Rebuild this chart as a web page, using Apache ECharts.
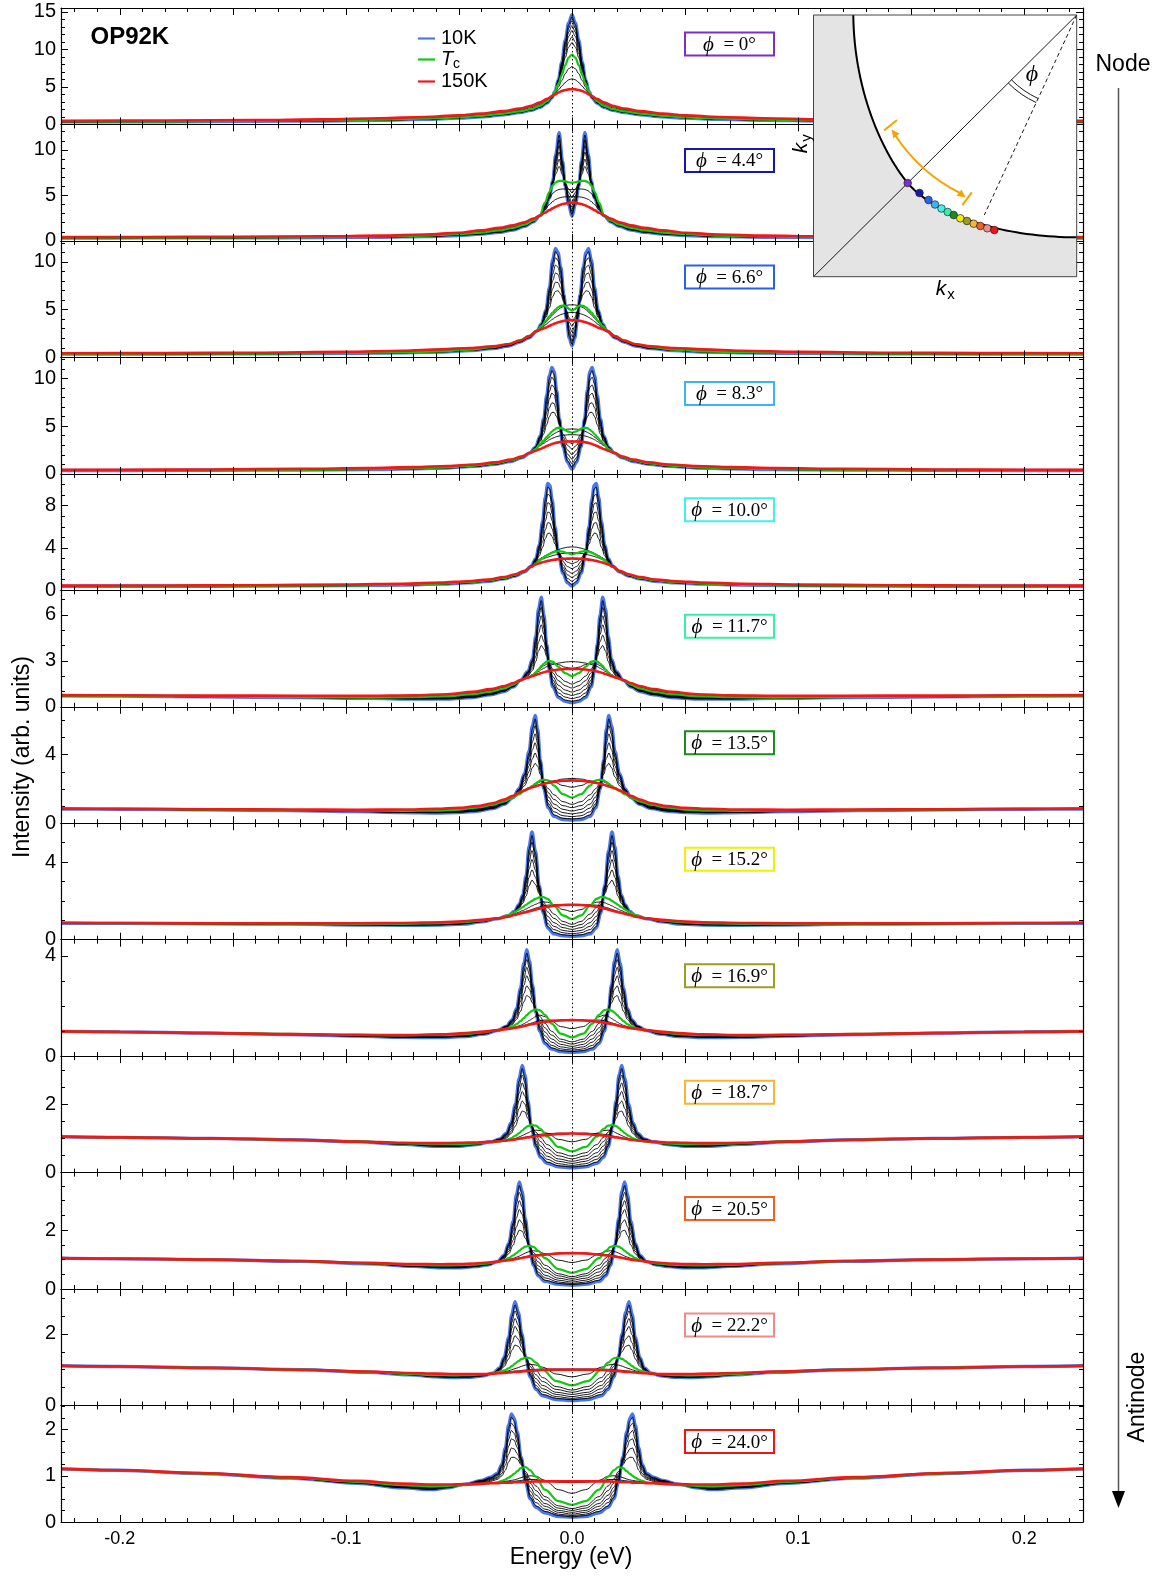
<!DOCTYPE html>
<html><head><meta charset="utf-8">
<script src="https://cdn.jsdelivr.net/npm/echarts@6.0.0/dist/echarts.min.js"></script>
<style>html,body{margin:0;padding:0;background:#fff}#c{width:1170px;height:1579px}</style>
</head><body><div id="c"></div>
<script>
// ---------------- DATA (half spectra, E >= 0; symmetrized EDCs) ----------------
const energy_p1 = [0,.0015,.003,.0045,.006,.0075,.009,.011,.014,.018,.023,.03,.04,.05,.065,.085,.11,.14,.18,.226];
const int10K_p1 = [14.6,13.5,11.2,8.3,6.0,4.4,3.5,2.85,2.3,1.9,1.6,1.3,1.02,0.85,0.68,0.56,0.47,0.41,0.37,0.35];
const intTc_p1 = [9.3,8.9,7.9,6.6,5.4,4.4,3.7,3.1,2.5,2.05,1.75,1.45,1.15,0.95,0.77,0.64,0.54,0.47,0.42,0.4];
const int150K_p1 = [4.7,4.67,4.58,4.45,4.25,4.0,3.75,3.4,2.95,2.5,2.12,1.78,1.45,1.22,0.99,0.82,0.68,0.59,0.52,0.48];
const intMid_p1 = [
[14.34,13.27,11.04,8.22,5.97,4.4,3.51,2.86,2.31,1.91,1.61,1.31,1.03,0.86,0.68,0.56,0.47,0.41,0.37,0.35],
[13.8,12.8,10.7,8.05,5.9,4.4,3.53,2.89,2.33,1.92,1.62,1.32,1.04,0.87,0.7,0.57,0.48,0.42,0.38,0.36],
[13.17,12.26,10.31,7.84,5.84,4.4,3.55,2.92,2.35,1.94,1.64,1.34,1.06,0.88,0.7,0.58,0.49,0.43,0.38,0.36],
[12.5,11.7,9.9,7.6,5.76,4.4,3.58,2.95,2.38,1.96,1.66,1.36,1.07,0.89,0.72,0.59,0.5,0.43,0.39,0.37],
[11.69,10.97,9.39,7.37,5.67,4.4,3.61,2.99,2.41,1.98,1.68,1.38,1.09,0.91,0.73,0.6,0.51,0.44,0.4,0.38],
[10.9,10.3,8.9,7.1,5.58,4.4,3.64,3.03,2.44,2.0,1.7,1.4,1.11,0.92,0.74,0.62,0.52,0.45,0.41,0.39],
[7.7,7.42,6.74,5.85,5.0,4.26,3.72,3.2,2.66,2.21,1.88,1.57,1.26,1.04,0.85,0.7,0.59,0.51,0.46,0.43],
[6.08,5.94,5.58,5.1,4.6,4.12,3.74,3.31,2.82,2.37,2.01,1.68,1.36,1.14,0.92,0.77,0.64,0.55,0.49,0.46]];

const energy_p2 = [0,.0015,.003,.0042,.0057,.0072,.0085,.01,.012,.0142,.017,.021,.026,.032,.04,.05,.065,.085,.11,.15,.19,.226];
const int10K_p2 = [2.7,4.0,6.0,8.8,11.9,9.5,6.6,4.7,3.5,2.75,2.1,1.6,1.2,0.95,0.75,0.6,0.48,0.41,0.37,0.34,0.33,0.32];
const intTc_p2 = [6.4,6.45,6.55,6.6,6.6,6.45,6.1,5.4,4.2,2.8,2.25,1.8,1.42,1.15,0.92,0.74,0.58,0.48,0.42,0.38,0.36,0.35];
const int150K_p2 = [4.2,4.18,4.12,4.05,3.92,3.75,3.58,3.38,3.1,2.8,2.45,2.05,1.72,1.45,1.18,0.9,0.7,0.58,0.51,0.46,0.43,0.42];
const intMid_p2 = [
[2.89,4.12,6.03,8.69,11.64,9.35,6.58,4.74,3.54,2.75,2.11,1.61,1.21,0.96,0.76,0.61,0.49,0.41,0.37,0.34,0.33,0.32],
[3.26,4.37,6.08,8.47,11.1,9.04,6.53,4.81,3.61,2.76,2.12,1.63,1.23,0.98,0.78,0.62,0.5,0.42,0.38,0.35,0.34,0.33],
[3.7,4.66,6.15,8.21,10.47,8.68,6.47,4.89,3.69,2.76,2.14,1.65,1.26,1.0,0.8,0.64,0.51,0.43,0.38,0.35,0.34,0.33],
[4.18,4.98,6.22,7.92,9.78,8.28,6.4,4.98,3.78,2.77,2.16,1.68,1.29,1.03,0.82,0.66,0.52,0.44,0.39,0.36,0.34,0.33],
[4.74,5.35,6.3,7.59,8.99,7.82,6.33,5.09,3.89,2.78,2.18,1.71,1.32,1.06,0.84,0.68,0.54,0.45,0.4,0.36,0.35,0.34],
[5.29,5.72,6.39,7.26,8.19,7.37,6.25,5.19,3.99,2.79,2.2,1.74,1.35,1.09,0.87,0.7,0.55,0.46,0.41,0.37,0.35,0.34],
[5.63,5.66,5.7,5.71,5.66,5.5,5.22,4.69,3.81,2.8,2.32,1.89,1.52,1.25,1.01,0.8,0.62,0.52,0.45,0.41,0.385,0.375],
[4.86,4.86,4.85,4.81,4.72,4.56,4.34,3.99,3.43,2.8,2.39,1.98,1.63,1.36,1.1,0.85,0.66,0.55,0.48,0.44,0.41,0.4]];

const energy_p3 = [0,.0012,.0024,.0036,.005,.0062,.0073,.0086,.01,.0115,.0135,.0156,.019,.023,.028,.035,.045,.058,.075,.1,.14,.18,.226];
const int10K_p3 = [1.2,2.0,3.9,6.6,9.5,11.0,11.4,10.2,7.3,5.0,3.5,2.75,2.05,1.6,1.2,0.92,0.72,0.57,0.48,0.42,0.38,0.36,0.35];
const intTc_p3 = [4.9,5.05,5.3,5.45,5.4,5.25,5.0,4.7,4.3,3.85,3.3,2.8,2.25,1.8,1.4,1.08,0.82,0.64,0.52,0.45,0.4,0.38,0.37];
const int150K_p3 = [3.9,3.89,3.86,3.82,3.75,3.67,3.58,3.45,3.3,3.12,2.95,2.75,2.2,1.75,1.38,1.15,0.98,0.85,0.7,0.58,0.49,0.45,0.43];
const intMid_p3 = [
[1.39,2.15,3.97,6.54,9.3,10.71,11.08,9.93,7.15,4.94,3.49,2.75,2.06,1.61,1.21,0.93,0.73,0.57,0.48,0.42,0.38,0.36,0.35],
[1.76,2.46,4.11,6.43,8.89,10.14,10.44,9.38,6.85,4.83,3.47,2.76,2.08,1.63,1.23,0.94,0.74,0.58,0.49,0.42,0.38,0.36,0.35],
[2.2,2.82,4.28,6.29,8.39,9.45,9.67,8.72,6.49,4.69,3.45,2.76,2.1,1.65,1.25,0.96,0.75,0.59,0.49,0.43,0.39,0.37,0.36],
[2.68,3.22,4.46,6.14,7.86,8.7,8.84,8.0,6.1,4.54,3.42,2.77,2.13,1.68,1.28,0.98,0.76,0.6,0.5,0.43,0.39,0.37,0.36],
[3.24,3.68,4.67,5.97,7.25,7.84,7.88,7.18,5.65,4.37,3.39,2.78,2.16,1.71,1.31,1.01,0.78,0.61,0.5,0.44,0.39,0.37,0.36],
[3.79,4.14,4.88,5.8,6.63,6.98,6.92,6.35,5.2,4.2,3.36,2.79,2.19,1.74,1.34,1.03,0.79,0.62,0.51,0.44,0.39,0.37,0.36],
[5.5,5.5,5.45,5.35,5.2,5.0,4.75,4.45,4.1,3.7,3.2,2.78,2.22,1.78,1.39,1.1,0.88,0.7,0.57,0.49,0.43,0.4,0.39],
[4.7,4.69,4.65,4.58,4.48,4.35,4.2,4.0,3.75,3.45,3.1,2.77,2.21,1.77,1.39,1.13,0.94,0.79,0.64,0.54,0.46,0.43,0.41]];

const energy_p4 = [0,.002,.004,.0056,.0068,.0079,.0089,.01,.0112,.0125,.014,.0162,.0186,.022,.027,.034,.043,.055,.07,.09,.12,.16,.2,.226];
const int10K_p4 = [0.5,1.2,2.8,5.8,8.8,10.7,11.15,10.3,8.2,5.8,4.0,2.8,2.2,1.7,1.3,1.0,0.78,0.62,0.52,0.45,0.4,0.37,0.35,0.35];
const intTc_p4 = [4.3,4.45,4.75,4.85,4.78,4.62,4.42,4.15,3.85,3.5,3.15,2.6,2.2,1.78,1.4,1.1,0.86,0.68,0.56,0.48,0.42,0.39,0.37,0.37];
const int150K_p4 = [3.4,3.39,3.36,3.32,3.27,3.2,3.12,3.02,2.9,2.76,2.6,2.4,2.2,1.85,1.5,1.2,0.98,0.82,0.7,0.6,0.52,0.46,0.43,0.42];
const intMid_p4 = [
[0.69,1.36,2.9,5.75,8.6,10.4,10.81,9.99,7.98,5.69,3.96,2.79,2.2,1.7,1.31,1.01,0.78,0.62,0.52,0.45,0.4,0.37,0.35,0.35],
[1.07,1.69,3.09,5.66,8.2,9.79,10.14,9.38,7.55,5.46,3.87,2.77,2.2,1.71,1.32,1.02,0.79,0.63,0.53,0.45,0.4,0.37,0.35,0.35],
[1.53,2.08,3.33,5.54,7.71,9.06,9.33,8.64,7.03,5.18,3.77,2.75,2.2,1.72,1.33,1.03,0.8,0.64,0.53,0.46,0.41,0.38,0.36,0.36],
[2.02,2.5,3.58,5.42,7.19,8.27,8.46,7.84,6.46,4.88,3.66,2.72,2.2,1.73,1.34,1.04,0.81,0.64,0.54,0.46,0.41,0.38,0.36,0.36],
[2.59,2.99,3.87,5.28,6.59,7.36,7.45,6.92,5.81,4.54,3.53,2.69,2.2,1.74,1.36,1.06,0.82,0.65,0.54,0.47,0.41,0.38,0.36,0.36],
[3.16,3.48,4.17,5.14,5.99,6.44,6.44,5.99,5.16,4.19,3.41,2.66,2.2,1.76,1.37,1.07,0.84,0.66,0.55,0.47,0.41,0.38,0.36,0.36],
[4.7,4.68,4.6,4.48,4.35,4.2,4.05,3.85,3.62,3.35,3.05,2.58,2.2,1.8,1.43,1.14,0.9,0.72,0.6,0.51,0.45,0.41,0.39,0.38],
[4.1,4.09,4.04,3.97,3.9,3.8,3.7,3.57,3.4,3.2,2.98,2.55,2.2,1.83,1.47,1.17,0.94,0.77,0.65,0.55,0.48,0.43,0.4,0.4]];

const energy_p5 = [0,.002,.004,.006,.0075,.0088,.0098,.0107,.0118,.013,.0145,.016,.018,.021,.025,.03,.037,.046,.058,.075,.1,.14,.18,.226];
const int10K_p5 = [0.4,0.7,1.6,3.4,6.0,8.6,9.9,10.1,8.8,6.5,4.3,3.0,2.3,1.75,1.35,1.08,0.86,0.7,0.58,0.5,0.44,0.4,0.38,0.38];
const intTc_p5 = [3.4,3.5,3.65,3.7,3.65,3.55,3.45,3.35,3.2,3.02,2.8,2.55,2.2,1.8,1.45,1.17,0.93,0.76,0.62,0.52,0.46,0.42,0.4,0.39];
const int150K_p5 = [3.0,2.99,2.97,2.94,2.9,2.86,2.82,2.78,2.72,2.65,2.56,2.45,2.22,1.85,1.52,1.25,1.02,0.86,0.73,0.62,0.54,0.48,0.45,0.44];
const intMid_p5 = [
[0.55,0.84,1.7,3.42,5.88,8.35,9.58,9.76,8.52,6.33,4.23,2.98,2.3,1.75,1.36,1.08,0.86,0.7,0.58,0.5,0.44,0.4,0.38,0.38],
[0.85,1.12,1.91,3.45,5.65,7.84,8.93,9.09,7.96,5.98,4.08,2.93,2.29,1.76,1.37,1.09,0.87,0.71,0.59,0.5,0.44,0.4,0.38,0.38],
[1.21,1.46,2.15,3.48,5.37,7.24,8.16,8.28,7.29,5.56,3.9,2.88,2.27,1.76,1.38,1.1,0.88,0.72,0.59,0.51,0.45,0.41,0.39,0.38],
[1.6,1.82,2.42,3.52,5.06,6.58,7.32,7.4,6.56,5.11,3.7,2.82,2.26,1.77,1.39,1.12,0.89,0.72,0.6,0.51,0.45,0.41,0.39,0.38],
[2.05,2.24,2.73,3.57,4.71,5.82,6.35,6.39,5.72,4.59,3.48,2.75,2.25,1.78,1.41,1.13,0.9,0.73,0.6,0.51,0.45,0.41,0.39,0.39],
[2.5,2.66,3.04,3.61,4.36,5.07,5.39,5.38,4.88,4.06,3.25,2.69,2.23,1.79,1.42,1.14,0.91,0.74,0.61,0.51,0.45,0.41,0.39,0.39],
[4.1,4.07,3.98,3.85,3.72,3.6,3.5,3.4,3.27,3.12,2.93,2.68,2.3,1.85,1.49,1.2,0.96,0.79,0.65,0.55,0.48,0.44,0.42,0.41],
[3.55,3.53,3.48,3.41,3.33,3.26,3.2,3.13,3.05,2.95,2.8,2.62,2.28,1.85,1.5,1.22,0.99,0.82,0.69,0.58,0.51,0.46,0.43,0.42]];

const energy_p6 = [0,.003,.006,.0085,.01,.0112,.0124,.0136,.0148,.016,.0175,.0195,.0228,.026,.03,.036,.044,.055,.07,.09,.12,.16,.2,.226];
const int10K_p6 = [0.27,0.35,0.6,1.3,2.4,4.1,6.0,7.15,6.4,4.6,3.1,2.3,1.72,1.3,1.0,0.78,0.6,0.5,0.5,0.55,0.6,0.65,0.7,0.72];
const intTc_p6 = [2.0,2.2,2.6,2.95,3.0,2.95,2.82,2.65,2.45,2.25,2.05,1.9,1.73,1.45,1.2,0.98,0.82,0.7,0.62,0.6,0.62,0.66,0.71,0.73];
const int150K_p6 = [2.47,2.46,2.43,2.38,2.34,2.3,2.25,2.2,2.14,2.08,2.0,1.9,1.75,1.55,1.35,1.15,0.97,0.82,0.75,0.72,0.72,0.73,0.75,0.76];
const intMid_p6 = [
[0.36,0.44,0.7,1.38,2.43,4.04,5.84,6.93,6.2,4.48,3.05,2.28,1.72,1.31,1.01,0.79,0.61,0.51,0.51,0.55,0.6,0.65,0.7,0.72],
[0.53,0.63,0.9,1.55,2.49,3.93,5.52,6.48,5.81,4.25,2.94,2.24,1.72,1.32,1.03,0.81,0.63,0.53,0.52,0.56,0.6,0.65,0.7,0.72],
[0.74,0.85,1.14,1.75,2.56,3.79,5.14,5.94,5.33,3.97,2.82,2.19,1.72,1.34,1.05,0.83,0.66,0.55,0.53,0.56,0.61,0.65,0.7,0.72],
[0.96,1.09,1.4,1.96,2.64,3.64,4.73,5.35,4.82,3.66,2.68,2.14,1.72,1.36,1.08,0.86,0.69,0.58,0.55,0.57,0.61,0.65,0.7,0.72],
[1.22,1.37,1.7,2.21,2.73,3.47,4.25,4.68,4.23,3.31,2.52,2.08,1.73,1.38,1.11,0.89,0.72,0.61,0.57,0.58,0.61,0.66,0.71,0.73],
[1.48,1.65,2.0,2.46,2.82,3.3,3.77,4.0,3.64,2.96,2.37,2.02,1.73,1.41,1.14,0.92,0.75,0.64,0.58,0.59,0.61,0.66,0.71,0.73],
[2.5,2.58,2.75,2.85,2.84,2.78,2.68,2.56,2.42,2.27,2.08,1.92,1.74,1.48,1.24,1.03,0.86,0.73,0.66,0.63,0.64,0.68,0.72,0.74],
[2.95,2.92,2.85,2.76,2.7,2.62,2.52,2.42,2.3,2.18,2.03,1.9,1.74,1.5,1.28,1.08,0.9,0.77,0.7,0.67,0.68,0.7,0.74,0.75]];

const energy_p7 = [0,.004,.008,.0105,.0125,.014,.0152,.0163,.0175,.019,.021,.0235,.026,.03,.035,.042,.05,.06,.075,.095,.125,.16,.2,.226];
const int10K_p7 = [0.18,0.22,0.4,0.9,2.0,3.7,5.5,6.3,5.7,4.2,2.9,2.0,1.5,1.1,0.85,0.7,0.62,0.6,0.63,0.68,0.74,0.78,0.82,0.83];
const intTc_p7 = [1.5,1.7,2.2,2.5,2.55,2.5,2.4,2.3,2.18,2.05,1.88,1.68,1.5,1.27,1.08,0.92,0.8,0.74,0.72,0.74,0.77,0.8,0.83,0.84];
const int150K_p7 = [2.5,2.48,2.42,2.36,2.3,2.25,2.2,2.15,2.1,2.03,1.93,1.78,1.6,1.38,1.17,1.0,0.9,0.84,0.8,0.79,0.8,0.82,0.84,0.85];
const intMid_p7 = [
[0.25,0.29,0.49,0.98,2.03,3.64,5.35,6.1,5.52,4.09,2.85,1.98,1.5,1.11,0.86,0.71,0.63,0.61,0.63,0.68,0.74,0.78,0.82,0.83],
[0.38,0.44,0.67,1.14,2.08,3.52,5.04,5.7,5.17,3.88,2.75,1.95,1.5,1.13,0.88,0.73,0.65,0.62,0.64,0.69,0.74,0.78,0.82,0.83],
[0.54,0.62,0.89,1.33,2.15,3.38,4.66,5.22,4.75,3.62,2.62,1.91,1.5,1.15,0.91,0.76,0.67,0.64,0.65,0.7,0.75,0.79,0.82,0.83],
[0.71,0.81,1.12,1.54,2.22,3.22,4.26,4.7,4.29,3.34,2.49,1.87,1.5,1.17,0.94,0.79,0.69,0.66,0.67,0.7,0.75,0.79,0.82,0.83],
[0.91,1.03,1.39,1.78,2.3,3.04,3.8,4.1,3.76,3.02,2.34,1.82,1.5,1.19,0.98,0.82,0.72,0.68,0.68,0.71,0.76,0.79,0.83,0.84],
[1.1,1.26,1.66,2.02,2.39,2.86,3.33,3.5,3.24,2.7,2.19,1.78,1.5,1.22,1.01,0.85,0.75,0.7,0.69,0.72,0.76,0.79,0.83,0.84],
[2.1,2.2,2.42,2.5,2.48,2.42,2.34,2.26,2.18,2.08,1.94,1.76,1.57,1.34,1.13,0.96,0.85,0.79,0.76,0.76,0.78,0.81,0.84,0.85],
[2.62,2.58,2.48,2.4,2.34,2.28,2.22,2.16,2.1,2.02,1.9,1.73,1.55,1.33,1.13,0.96,0.86,0.8,0.77,0.77,0.79,0.81,0.84,0.85]];

const energy_p8 = [0,.004,.008,.0108,.0128,.0145,.0162,.0177,.019,.0203,.0218,.0235,.0255,.028,.033,.04,.048,.058,.075,.095,.125,.16,.2,.226];
const int10K_p8 = [0.17,0.2,0.3,0.6,1.4,2.8,4.6,5.55,4.8,3.3,2.3,1.8,1.45,1.25,1.08,0.92,0.8,0.75,0.74,0.76,0.8,0.82,0.84,0.85];
const intTc_p8 = [1.06,1.25,1.75,2.1,2.2,2.18,2.1,2.0,1.9,1.8,1.68,1.55,1.42,1.27,1.1,0.98,0.9,0.85,0.82,0.82,0.83,0.84,0.85,0.86];
const int150K_p8 = [1.8,1.79,1.75,1.7,1.65,1.6,1.55,1.5,1.46,1.42,1.38,1.33,1.27,1.19,1.1,1.02,0.95,0.9,0.86,0.85,0.85,0.85,0.86,0.87];
const intMid_p8 = [
[0.21,0.25,0.37,0.68,1.44,2.77,4.48,5.37,4.66,3.23,2.27,1.79,1.45,1.25,1.08,0.92,0.81,0.76,0.74,0.76,0.8,0.82,0.84,0.85],
[0.3,0.36,0.52,0.83,1.52,2.71,4.23,5.02,4.37,3.08,2.21,1.76,1.45,1.25,1.08,0.93,0.82,0.77,0.75,0.77,0.8,0.82,0.84,0.85],
[0.41,0.48,0.69,1.01,1.62,2.63,3.93,4.59,4.02,2.9,2.13,1.73,1.44,1.26,1.09,0.94,0.83,0.78,0.76,0.78,0.81,0.83,0.84,0.85],
[0.53,0.62,0.88,1.2,1.72,2.55,3.6,4.13,3.64,2.7,2.05,1.7,1.44,1.26,1.09,0.94,0.84,0.79,0.77,0.78,0.81,0.83,0.84,0.85],
[0.66,0.78,1.1,1.43,1.84,2.46,3.23,3.6,3.21,2.48,1.96,1.66,1.43,1.26,1.09,0.95,0.86,0.81,0.78,0.79,0.82,0.83,0.85,0.86],
[0.79,0.94,1.32,1.65,1.96,2.37,2.85,3.07,2.77,2.25,1.87,1.63,1.43,1.26,1.09,0.96,0.87,0.82,0.8,0.8,0.82,0.83,0.85,0.86],
[1.45,1.55,1.8,1.93,1.95,1.9,1.82,1.74,1.66,1.58,1.5,1.42,1.33,1.22,1.1,1.0,0.92,0.87,0.83,0.83,0.84,0.84,0.85,0.86],
[1.78,1.79,1.8,1.78,1.74,1.68,1.62,1.56,1.51,1.46,1.41,1.35,1.28,1.2,1.1,1.01,0.93,0.88,0.84,0.84,0.84,0.85,0.86,0.86]];

const energy_p9 = [0,.005,.009,.012,.0143,.016,.0175,.0188,.02,.0213,.0228,.0245,.0265,.029,.033,.039,.047,.058,.075,.095,.125,.16,.2,.226];
const int10K_p9 = [0.15,0.18,0.28,0.5,1.0,1.75,2.85,3.8,4.25,3.7,2.7,1.9,1.45,1.2,1.02,0.88,0.78,0.74,0.75,0.8,0.86,0.92,0.97,0.99];
const intTc_p9 = [0.75,0.9,1.3,1.65,1.84,1.87,1.82,1.74,1.64,1.52,1.4,1.28,1.18,1.1,1.04,0.95,0.88,0.84,0.83,0.85,0.89,0.93,0.97,0.99];
const int150K_p9 = [1.44,1.43,1.4,1.37,1.34,1.31,1.28,1.26,1.23,1.2,1.17,1.14,1.11,1.08,1.04,0.98,0.92,0.87,0.84,0.85,0.88,0.92,0.97,0.99];
const intMid_p9 = [
[0.18,0.22,0.33,0.56,1.04,1.76,2.8,3.7,4.12,3.59,2.64,1.87,1.44,1.2,1.02,0.88,0.79,0.75,0.75,0.8,0.86,0.92,0.97,0.99],
[0.24,0.29,0.43,0.67,1.13,1.77,2.7,3.49,3.86,3.37,2.5,1.81,1.41,1.19,1.02,0.89,0.8,0.76,0.76,0.81,0.86,0.92,0.97,0.99],
[0.31,0.37,0.56,0.81,1.23,1.78,2.57,3.24,3.55,3.11,2.35,1.73,1.38,1.17,1.03,0.9,0.81,0.77,0.77,0.81,0.87,0.92,0.97,0.99],
[0.39,0.47,0.69,0.96,1.34,1.8,2.44,2.98,3.21,2.83,2.18,1.65,1.34,1.16,1.03,0.91,0.82,0.78,0.78,0.82,0.87,0.92,0.97,0.99],
[0.48,0.58,0.84,1.13,1.46,1.82,2.28,2.67,2.81,2.5,1.99,1.56,1.3,1.15,1.03,0.92,0.84,0.8,0.79,0.83,0.88,0.93,0.97,0.99],
[0.57,0.68,0.99,1.31,1.59,1.83,2.13,2.36,2.42,2.17,1.79,1.47,1.26,1.13,1.03,0.93,0.85,0.81,0.81,0.84,0.88,0.93,0.97,0.99],
[1.1,1.18,1.4,1.58,1.64,1.6,1.5,1.43,1.36,1.29,1.23,1.18,1.13,1.09,1.04,0.96,0.9,0.86,0.84,0.85,0.89,0.93,0.97,0.99],
[1.42,1.43,1.44,1.44,1.42,1.38,1.33,1.3,1.26,1.22,1.18,1.15,1.12,1.08,1.04,0.97,0.91,0.86,0.84,0.85,0.88,0.92,0.97,0.99]];

const energy_p10 = [0,.006,.011,.014,.016,.018,.0195,.0208,.022,.0234,.025,.027,.029,.032,.036,.042,.05,.06,.075,.095,.125,.16,.2,.226];
const int10K_p10 = [0.14,0.17,0.27,0.45,0.75,1.35,2.1,2.85,3.13,2.75,2.0,1.45,1.15,0.98,0.9,0.82,0.77,0.77,0.83,0.9,0.96,1.0,1.03,1.05];
const intTc_p10 = [0.62,0.75,1.05,1.28,1.37,1.39,1.36,1.3,1.23,1.15,1.08,1.0,0.95,0.91,0.88,0.85,0.83,0.83,0.86,0.91,0.96,1.0,1.03,1.05];
const int150K_p10 = [1.14,1.13,1.1,1.08,1.06,1.04,1.03,1.02,1.0,0.99,0.97,0.95,0.94,0.92,0.9,0.88,0.87,0.86,0.87,0.91,0.96,1.0,1.03,1.05];
const intMid_p10 = [
[0.16,0.2,0.31,0.49,0.78,1.35,2.06,2.77,3.04,2.67,1.95,1.43,1.14,0.98,0.9,0.82,0.77,0.77,0.83,0.9,0.96,1.0,1.03,1.05],
[0.21,0.26,0.39,0.57,0.84,1.36,1.99,2.62,2.85,2.51,1.86,1.38,1.12,0.97,0.9,0.82,0.78,0.78,0.83,0.9,0.96,1.0,1.03,1.05],
[0.27,0.33,0.48,0.67,0.92,1.36,1.9,2.43,2.62,2.32,1.75,1.33,1.1,0.96,0.89,0.83,0.79,0.79,0.84,0.9,0.96,1.0,1.03,1.05],
[0.33,0.4,0.58,0.78,1.0,1.37,1.8,2.23,2.37,2.11,1.63,1.27,1.07,0.95,0.89,0.83,0.79,0.79,0.84,0.9,0.96,1.0,1.03,1.05],
[0.4,0.49,0.7,0.91,1.09,1.37,1.69,2.0,2.09,1.87,1.49,1.2,1.04,0.94,0.89,0.84,0.8,0.8,0.85,0.91,0.96,1.0,1.03,1.05],
[0.48,0.58,0.82,1.03,1.18,1.38,1.58,1.77,1.8,1.63,1.36,1.14,1.01,0.93,0.89,0.84,0.81,0.81,0.85,0.91,0.96,1.0,1.03,1.05],
[0.9,0.97,1.15,1.23,1.24,1.21,1.16,1.12,1.08,1.04,1.0,0.96,0.93,0.91,0.89,0.87,0.85,0.85,0.87,0.91,0.96,1.0,1.03,1.05],
[1.15,1.15,1.14,1.12,1.1,1.07,1.05,1.03,1.01,0.99,0.97,0.95,0.93,0.91,0.9,0.88,0.86,0.85,0.87,0.91,0.96,1.0,1.03,1.05]];

const energy_p11 = [0,.006,.012,.015,.017,.019,.0207,.022,.0233,.0246,.026,.028,.03,.033,.037,.043,.05,.058,.07,.09,.12,.16,.2,.226];
const int10K_p11 = [0.13,0.16,0.26,0.45,0.8,1.5,2.4,3.3,3.63,3.2,2.3,1.55,1.15,0.93,0.82,0.76,0.72,0.72,0.77,0.86,0.94,1.0,1.03,1.05];
const intTc_p11 = [0.55,0.68,1.05,1.3,1.43,1.47,1.44,1.38,1.3,1.22,1.14,1.05,0.98,0.92,0.87,0.83,0.81,0.8,0.82,0.88,0.95,1.0,1.03,1.05];
const int150K_p11 = [1.22,1.21,1.17,1.14,1.12,1.1,1.08,1.06,1.04,1.02,1.0,0.98,0.96,0.93,0.9,0.87,0.85,0.84,0.85,0.89,0.95,1.0,1.03,1.05];
const intMid_p11 = [
[0.15,0.19,0.3,0.49,0.83,1.5,2.35,3.2,3.51,3.1,2.24,1.53,1.14,0.93,0.82,0.76,0.72,0.72,0.77,0.86,0.94,1.0,1.03,1.05],
[0.19,0.24,0.38,0.58,0.89,1.5,2.26,3.01,3.28,2.9,2.13,1.48,1.12,0.93,0.83,0.77,0.73,0.73,0.78,0.86,0.94,1.0,1.03,1.05],
[0.24,0.3,0.47,0.68,0.97,1.49,2.14,2.78,3.0,2.67,1.99,1.42,1.1,0.93,0.83,0.78,0.74,0.74,0.78,0.87,0.94,1.0,1.03,1.05],
[0.3,0.37,0.58,0.79,1.05,1.49,2.02,2.53,2.7,2.41,1.84,1.35,1.08,0.93,0.84,0.79,0.76,0.75,0.79,0.87,0.94,1.0,1.03,1.05],
[0.36,0.45,0.69,0.92,1.15,1.48,1.87,2.24,2.35,2.11,1.66,1.28,1.06,0.92,0.85,0.8,0.77,0.76,0.8,0.87,0.95,1.0,1.03,1.05],
[0.42,0.52,0.81,1.05,1.24,1.48,1.73,1.96,2.0,1.81,1.49,1.2,1.03,0.92,0.86,0.81,0.78,0.78,0.81,0.87,0.95,1.0,1.03,1.05],
[0.9,0.98,1.2,1.28,1.3,1.27,1.22,1.17,1.12,1.08,1.04,1.0,0.96,0.92,0.88,0.85,0.83,0.82,0.84,0.89,0.95,1.0,1.03,1.05],
[1.2,1.2,1.19,1.17,1.15,1.13,1.1,1.07,1.05,1.03,1.01,0.98,0.96,0.93,0.9,0.86,0.84,0.83,0.85,0.89,0.95,1.0,1.03,1.05]];

const energy_p12 = [0,.007,.013,.016,.0185,.0205,.0222,.0237,.0252,.0266,.028,.03,.032,.035,.039,.045,.052,.06,.072,.09,.12,.16,.2,.226];
const int10K_p12 = [0.14,0.17,0.27,0.45,0.8,1.35,2.0,2.6,2.9,2.55,1.9,1.35,1.05,0.9,0.83,0.79,0.78,0.8,0.86,0.93,1.0,1.05,1.09,1.11];
const intTc_p12 = [0.56,0.68,1.0,1.2,1.32,1.34,1.3,1.24,1.17,1.1,1.04,0.98,0.94,0.9,0.87,0.85,0.84,0.85,0.88,0.94,1.0,1.05,1.09,1.11];
const int150K_p12 = [1.0,1.0,0.99,0.98,0.97,0.96,0.95,0.94,0.94,0.93,0.92,0.91,0.9,0.89,0.88,0.88,0.88,0.89,0.91,0.95,1.0,1.05,1.09,1.11];
const intMid_p12 = [
[0.16,0.2,0.31,0.49,0.83,1.35,1.97,2.53,2.81,2.48,1.86,1.33,1.04,0.9,0.83,0.79,0.78,0.8,0.86,0.93,1.0,1.05,1.09,1.11],
[0.2,0.25,0.38,0.56,0.88,1.35,1.9,2.4,2.64,2.33,1.77,1.29,1.03,0.9,0.84,0.8,0.79,0.81,0.86,0.93,1.0,1.05,1.09,1.11],
[0.25,0.31,0.47,0.65,0.94,1.35,1.81,2.23,2.43,2.16,1.67,1.25,1.02,0.9,0.84,0.81,0.8,0.81,0.87,0.93,1.0,1.05,1.09,1.11],
[0.31,0.37,0.56,0.75,1.01,1.35,1.72,2.06,2.21,1.97,1.56,1.2,1.01,0.9,0.85,0.81,0.8,0.82,0.87,0.93,1.0,1.05,1.09,1.11],
[0.37,0.45,0.67,0.86,1.09,1.34,1.62,1.85,1.95,1.75,1.43,1.15,0.99,0.9,0.85,0.82,0.81,0.83,0.87,0.94,1.0,1.05,1.09,1.11],
[0.43,0.53,0.78,0.98,1.16,1.34,1.51,1.65,1.69,1.54,1.3,1.09,0.97,0.9,0.86,0.83,0.82,0.84,0.87,0.94,1.0,1.05,1.09,1.11],
[0.8,0.88,1.07,1.13,1.15,1.13,1.1,1.06,1.03,1.0,0.97,0.94,0.92,0.9,0.88,0.86,0.86,0.87,0.89,0.94,1.0,1.05,1.09,1.11],
[1.02,1.02,1.02,1.01,1.0,0.99,0.98,0.97,0.96,0.95,0.94,0.92,0.91,0.9,0.88,0.87,0.87,0.88,0.9,0.94,1.0,1.05,1.09,1.11]];

const energy_p13 = [0,.006,.012,.016,.0185,.0205,.0225,.0242,.0256,.0268,.028,.0295,.031,.033,.036,.04,.047,.055,.062,.075,.095,.125,.165,.2,.226];
const int10K_p13 = [0.1,0.12,0.2,0.32,0.5,0.85,1.4,1.95,2.25,2.34,2.1,1.6,1.25,1.05,0.97,0.9,0.82,0.74,0.7,0.74,0.84,0.95,1.05,1.12,1.15];
const intTc_p13 = [0.37,0.45,0.7,0.98,1.12,1.19,1.17,1.1,1.04,1.0,0.96,0.92,0.89,0.86,0.84,0.82,0.8,0.78,0.77,0.8,0.87,0.96,1.05,1.12,1.15];
const int150K_p13 = [0.88,0.88,0.88,0.88,0.87,0.87,0.86,0.86,0.86,0.85,0.85,0.85,0.85,0.84,0.84,0.83,0.82,0.81,0.81,0.83,0.89,0.97,1.06,1.12,1.15];
const intMid_p13 = [
[0.11,0.14,0.23,0.35,0.53,0.87,1.39,1.91,2.19,2.27,2.04,1.57,1.23,1.04,0.96,0.9,0.82,0.74,0.7,0.74,0.84,0.95,1.05,1.12,1.15],
[0.14,0.17,0.28,0.42,0.59,0.9,1.37,1.82,2.07,2.14,1.93,1.5,1.2,1.02,0.95,0.89,0.82,0.75,0.71,0.75,0.84,0.95,1.05,1.12,1.15],
[0.17,0.21,0.34,0.5,0.67,0.94,1.34,1.72,1.92,1.98,1.79,1.42,1.15,1.0,0.93,0.88,0.81,0.75,0.72,0.76,0.85,0.95,1.05,1.12,1.15],
[0.21,0.25,0.4,0.58,0.75,0.99,1.31,1.61,1.77,1.8,1.64,1.33,1.11,0.97,0.92,0.87,0.81,0.76,0.73,0.76,0.85,0.95,1.05,1.12,1.15],
[0.25,0.3,0.48,0.68,0.84,1.04,1.27,1.48,1.58,1.6,1.47,1.23,1.05,0.95,0.9,0.86,0.81,0.76,0.74,0.77,0.86,0.96,1.05,1.12,1.15],
[0.29,0.35,0.55,0.78,0.93,1.09,1.24,1.36,1.4,1.4,1.3,1.12,1.0,0.92,0.88,0.84,0.81,0.77,0.75,0.78,0.86,0.96,1.05,1.12,1.15],
[0.62,0.7,0.9,0.99,1.0,0.99,0.96,0.93,0.91,0.9,0.89,0.88,0.87,0.86,0.85,0.84,0.82,0.8,0.79,0.81,0.88,0.96,1.05,1.12,1.15],
[0.85,0.86,0.9,0.92,0.92,0.91,0.9,0.89,0.88,0.87,0.87,0.86,0.86,0.85,0.85,0.84,0.82,0.81,0.8,0.82,0.88,0.96,1.05,1.12,1.15]];

// panel labels, axis ranges and tick labels
const phiAngles = ['0','4.4','6.6','8.3','10.0','11.7','13.5','15.2','16.9','18.7','20.5','22.2','24.0'];
const yAxisMax = [15.5,12.8,12.2,12.2,11.0,7.6,6.8,6.0,4.65,3.4,3.95,3.25,2.52];
const yTickLabels = [[0,5,10,15],[0,5,10],[0,5,10],[0,5,10],[0,4,8],[0,3,6],[0,4],[0,4],[0,4],[0,2],[0,2],[0,2],[0,1,2]];
const yMinorStep = [1,1,1,1,1,1,1,1,1,0.5,0.5,0.5,0.25];
const energyTickLabels = [-0.2,-0.1,0.0,0.1,0.2];
const legendLabels = ['10K','Tc','150K'];

// ---------------- STYLE ----------------
const boxColors = ['#7d2fc8','#1616b0','#2a62e6','#3ab4f2','#3ef0ee','#36f0a6','#1c8c1c','#f0f000','#a09c1e','#f7b531','#ef6224','#f28a8a','#ef1515'];
const BLUE = '#4a78ec', GREEN = '#10c810', RED = '#f01818';
const SANS = '"Liberation Sans", Arial, Helvetica, sans-serif';
const SERIF = '"Liberation Serif", "Times New Roman", serif';

const panels = [
 [energy_p1,int10K_p1,intTc_p1,int150K_p1,intMid_p1],
 [energy_p2,int10K_p2,intTc_p2,int150K_p2,intMid_p2],
 [energy_p3,int10K_p3,intTc_p3,int150K_p3,intMid_p3],
 [energy_p4,int10K_p4,intTc_p4,int150K_p4,intMid_p4],
 [energy_p5,int10K_p5,intTc_p5,int150K_p5,intMid_p5],
 [energy_p6,int10K_p6,intTc_p6,int150K_p6,intMid_p6],
 [energy_p7,int10K_p7,intTc_p7,int150K_p7,intMid_p7],
 [energy_p8,int10K_p8,intTc_p8,int150K_p8,intMid_p8],
 [energy_p9,int10K_p9,intTc_p9,int150K_p9,intMid_p9],
 [energy_p10,int10K_p10,intTc_p10,int150K_p10,intMid_p10],
 [energy_p11,int10K_p11,intTc_p11,int150K_p11,intMid_p11],
 [energy_p12,int10K_p12,intTc_p12,int150K_p12,intMid_p12],
 [energy_p13,int10K_p13,intTc_p13,int150K_p13,intMid_p13]
];

// symmetrized spectra: mirror the E>=0 half onto E<0
function mirror(E, V) {
  const out = [];
  for (let i = E.length - 1; i > 0; i--) out.push([-E[i], V[i]]);
  for (let i = 0; i < E.length; i++) out.push([E[i], V[i]]);
  return out;
}

const LEFT = 61, RIGHT = 1083, TOP = 8, BOTTOM = 1522;
const PH = (BOTTOM - TOP) / 13;
const XMIN = -0.226, XMAX = 0.226;

const xMajor = [], xMinor = [];
for (let k = -22; k <= 22; k++) { (k % 5 === 0 ? xMajor : xMinor).push(k / 100); }

const grids = [], xAxes = [], yAxes = [], series = [];
function axLine(show) { return {show: show, onZero: false, lineStyle: {color: '#000', width: 1.2}}; }

function xAx(i, pos, ticks, len, labels, line) {
  return {gridIndex: i, type: 'value', min: XMIN, max: XMAX, position: pos, z: 10,
    axisLine: axLine(line),
    axisTick: {show: true, inside: true, length: len, customValues: ticks, lineStyle: {color: '#000', width: 1}},
    axisLabel: labels ? {show: true, customValues: labels, formatter: v => v.toFixed(1), color: '#000', fontSize: 18, fontFamily: SANS, margin: 8} : {show: false},
    splitLine: {show: false}, minorTick: {show: false}, axisPointer: {show: false}};
}
function yAx(i, pos, ticks, len, labels, line) {
  return {gridIndex: i, type: 'value', min: 0, max: yAxisMax[i], position: pos, z: 10,
    axisLine: axLine(line),
    axisTick: {show: true, inside: true, length: len, customValues: ticks, lineStyle: {color: '#000', width: 1}},
    axisLabel: labels ? {show: true, customValues: labels, formatter: v => String(v), color: '#000', fontSize: 20, fontFamily: SANS, margin: 5} : {show: false},
    splitLine: {show: false}, minorTick: {show: false}, axisPointer: {show: false}};
}

for (let i = 0; i < 13; i++) {
  grids.push({left: LEFT, width: RIGHT - LEFT, top: TOP + i * PH, height: PH, containLabel: false, outerBoundsMode: 'none'});
  const last = i === 12;
  xAxes.push(xAx(i, 'bottom', xMajor, 7, last ? energyTickLabels : null, true));
  xAxes.push(xAx(i, 'bottom', xMinor, 4, null, false));
  xAxes.push(xAx(i, 'top', xMajor, 7, null, true));
  xAxes.push(xAx(i, 'top', xMinor, 4, null, false));
  const maj = yTickLabels[i];
  const majStep = maj[1] - maj[0];
  const minor = [];
  for (let v = yMinorStep[i]; v < yAxisMax[i] - 1e-9; v += yMinorStep[i]) {
    const r = Math.round(v * 1000) / 1000;
    if (Math.abs(r / majStep - Math.round(r / majStep)) > 1e-6) minor.push(r);
  }
  yAxes.push(yAx(i, 'left', maj, 7, maj, true));
  yAxes.push(yAx(i, 'left', minor, 4, null, false));
  yAxes.push(yAx(i, 'right', maj, 7, null, true));
  yAxes.push(yAx(i, 'right', minor, 4, null, false));

  const [E, b, g, r, mids] = panels[i];
  const base = {type: 'line', xAxisIndex: i * 4, yAxisIndex: i * 4, showSymbol: false, symbol: 'none',
    smooth: 0.35, smoothMonotone: 'x', silent: true, animation: false, clip: true};
  series.push(Object.assign({}, base, {name: '10K', data: mirror(E, b), z: 2,
    lineStyle: {color: BLUE, width: 3.4},
    markLine: {silent: true, symbol: ['none', 'none'], label: {show: false}, animation: false,
      lineStyle: {color: '#000', width: 1, type: [1.5, 2.5]}, data: [{xAxis: 0}]}}));
  mids.forEach(m => series.push(Object.assign({}, base, {data: mirror(E, m), z: 3, lineStyle: {color: '#000', width: 0.9}})));
  series.push(Object.assign({}, base, {name: 'Tc', data: mirror(E, g), z: 4, lineStyle: {color: GREEN, width: 2.2}}));
  series.push(Object.assign({}, base, {name: '150K', data: mirror(E, r), z: 5, lineStyle: {color: RED, width: 2.6}}));
}

// ---------------- ANNOTATIONS ----------------
const gfx = [];
function T(x, y, text, font, align, extra) {
  const el = {type: 'text', x: x, y: y, z: 120, silent: true,
    style: {text: text, font: font, fill: '#000', align: align || 'center', verticalAlign: 'middle',
      textAlign: align || 'center', textVerticalAlign: 'middle'}};
  return Object.assign(el, extra || {});
}

gfx.push(T(90.5, 37.5, 'OP92K', 'bold 24px ' + SANS, 'left'));
// legend
const legY = [38.5, 59.5, 81.5], legC = [BLUE, GREEN, RED];
for (let k = 0; k < 3; k++) {
  gfx.push({type: 'line', z: 120, silent: true, shape: {x1: 418, y1: legY[k], x2: 435, y2: legY[k]}, style: {stroke: legC[k], lineWidth: 2.2}});
}
gfx.push(T(441, legY[0], legendLabels[0], '20px ' + SANS, 'left'));
gfx.push(T(441, legY[1], legendLabels[1].charAt(0), 'italic 20px ' + SANS, 'left'));
gfx.push(T(453, legY[1] + 5, legendLabels[1].charAt(1), '14px ' + SANS, 'left'));
gfx.push(T(441, legY[2], legendLabels[2], '20px ' + SANS, 'left'));

// phi boxes
for (let i = 0; i < 13; i++) {
  const cy = TOP + i * PH + 36;
  gfx.push({type: 'rect', z: 115, silent: true, shape: {x: 685, y: cy - 11.5, width: 89, height: 23},
    style: {fill: '#fff', stroke: boxColors[i], lineWidth: 2}});
  gfx.push({type: 'text', x: 729.5, y: cy + 1, z: 120, silent: true,
    style: {text: '{p|\u03D5}{n|  = ' + phiAngles[i] + '\u00B0}', align: 'center', verticalAlign: 'middle',
      textAlign: 'center', textVerticalAlign: 'middle', fill: '#000',
      rich: {p: {font: 'italic 21px ' + SERIF, fill: '#000'}, n: {font: '19px ' + SERIF, fill: '#000'}}}});
}

// axis titles
gfx.push(T(23, 757, 'Intensity (arb. units)', '23px ' + SANS, 'center', {rotation: Math.PI / 2}));
gfx.push(T(571, 1558, 'Energy (eV)', '23px ' + SANS, 'center'));

// Node -> Antinode arrow
gfx.push(T(1123, 65, 'Node', '23px ' + SANS, 'center'));
gfx.push({type: 'line', z: 120, silent: true, shape: {x1: 1118.5, y1: 88, x2: 1118.5, y2: 1494}, style: {stroke: '#555', lineWidth: 1.5}});
gfx.push({type: 'polygon', z: 120, silent: true, shape: {points: [[1112, 1491], [1125, 1491], [1118.5, 1508]]}, style: {fill: '#000'}});
gfx.push(T(1138, 1397, 'Antinode', '23px ' + SANS, 'center', {rotation: Math.PI / 2}));

// ---- inset: Fermi surface sketch ----
const IX0 = 813.5, IY0 = 15, IX1 = 1076.7, IY1 = 276.7;
function cubic(p0, p1, p2, p3, n) {
  const pts = [];
  for (let k = 0; k <= n; k++) {
    const t = k / n, u = 1 - t;
    pts.push([u*u*u*p0[0] + 3*u*u*t*p1[0] + 3*u*t*t*p2[0] + t*t*t*p3[0],
              u*u*u*p0[1] + 3*u*u*t*p1[1] + 3*u*t*t*p2[1] + t*t*t*p3[1]]);
  }
  return pts;
}
const seg1 = cubic([853.3, IY0], [854, 90], [882.1, 152.2], [907.7, 183], 30);
const seg2 = cubic([907.7, 183], [933.3, 213.8], [1000, 237.3], [IX1, 237.3], 40);
const fsPts = seg1.concat(seg2.slice(1));
gfx.push({type: 'rect', z: 110, silent: true, shape: {x: IX0, y: IY0, width: IX1 - IX0, height: IY1 - IY0}, style: {fill: '#fff', stroke: 'none'}});
gfx.push({type: 'polygon', z: 111, silent: true, shape: {points: [[IX0, IY0]].concat(fsPts, [[IX1, IY1], [IX0, IY1]])}, style: {fill: '#e4e4e4', stroke: 'none'}});
gfx.push({type: 'polyline', z: 112, silent: true, shape: {points: fsPts}, style: {stroke: '#000', lineWidth: 2, fill: 'none'}});
gfx.push({type: 'line', z: 112, silent: true, shape: {x1: IX0, y1: IY1, x2: IX1, y2: IY0}, style: {stroke: '#000', lineWidth: 0.9}});
gfx.push({type: 'line', z: 112, silent: true, shape: {x1: IX1, y1: IY0, x2: 984.3, y2: 215}, style: {stroke: '#000', lineWidth: 0.9, lineDash: [4, 3]}});
gfx.push({type: 'arc', z: 112, silent: true, shape: {cx: IX1, cy: IY0, r: 92, startAngle: 2.0036, endAngle: 2.359, clockwise: true}, style: {stroke: '#000', lineWidth: 0.9, fill: 'none'}});
gfx.push({type: 'arc', z: 112, silent: true, shape: {cx: IX1, cy: IY0, r: 96.5, startAngle: 2.0036, endAngle: 2.359, clockwise: true}, style: {stroke: '#000', lineWidth: 0.9, fill: 'none'}});
gfx.push(T(1032, 75, '\u03D5', 'italic 24px ' + SERIF, 'center'));
// orange arrow
const OR = '#f5a300';
gfx.push({type: 'bezierCurve', z: 113, silent: true, shape: {x1: 895, y1: 135, cpx1: 920, cpy1: 173, x2: 960, y2: 193}, style: {stroke: OR, lineWidth: 2, fill: 'none'}});
gfx.push({type: 'polygon', z: 113, silent: true, shape: {points: [[891.5, 129.5], [899.5, 133.5], [893.5, 138.5]]}, style: {fill: OR}});
gfx.push({type: 'polygon', z: 113, silent: true, shape: {points: [[965.5, 197.5], [961.5, 189.5], [956.5, 195.8]]}, style: {fill: OR}});
gfx.push({type: 'line', z: 113, silent: true, shape: {x1: 884, y1: 130.5, x2: 897, y2: 120}, style: {stroke: OR, lineWidth: 2}});
gfx.push({type: 'line', z: 113, silent: true, shape: {x1: 962.3, y1: 205.1, x2: 971.9, y2: 192.3}, style: {stroke: OR, lineWidth: 2}});
// dots (momentum cut positions, colored like panel boxes)
const dotPos = [[907.7,183],[919.5,193],[928.5,200],[935,204.5],[941.5,208.5],[947.7,212],[953.7,215],[960.3,218.3],[967,221],[973.7,223.7],[980.3,226],[987.3,228.3],[994.3,230]];
dotPos.forEach((p, k) => gfx.push({type: 'circle', z: 114, silent: true, shape: {cx: p[0], cy: p[1], r: 3.8}, style: {fill: boxColors[k], stroke: '#222', lineWidth: 0.7}}));
gfx.push({type: 'rect', z: 114, silent: true, shape: {x: IX0, y: IY0, width: IX1 - IX0, height: IY1 - IY0}, style: {fill: 'none', stroke: '#444', lineWidth: 1}});
// k labels
gfx.push(T(941, 289, 'k', 'italic 21px ' + SANS, 'center'));
gfx.push(T(951, 295, 'x', '15px ' + SANS, 'center'));
gfx.push({type: 'group', x: 801, y: 144, rotation: Math.PI / 2, z: 120, children: [
  T(-4, 0, 'k', 'italic 21px ' + SANS, 'center'),
  T(6, 6, 'y', '15px ' + SANS, 'center')
]});

const chart = echarts.init(document.getElementById('c'), null, {renderer: 'canvas', width: 1170, height: 1579});
chart.setOption({
  animation: false,
  backgroundColor: '#fff',
  grid: grids,
  xAxis: xAxes,
  yAxis: yAxes,
  series: series,
  graphic: {elements: gfx}
});
</script>
</body></html>
